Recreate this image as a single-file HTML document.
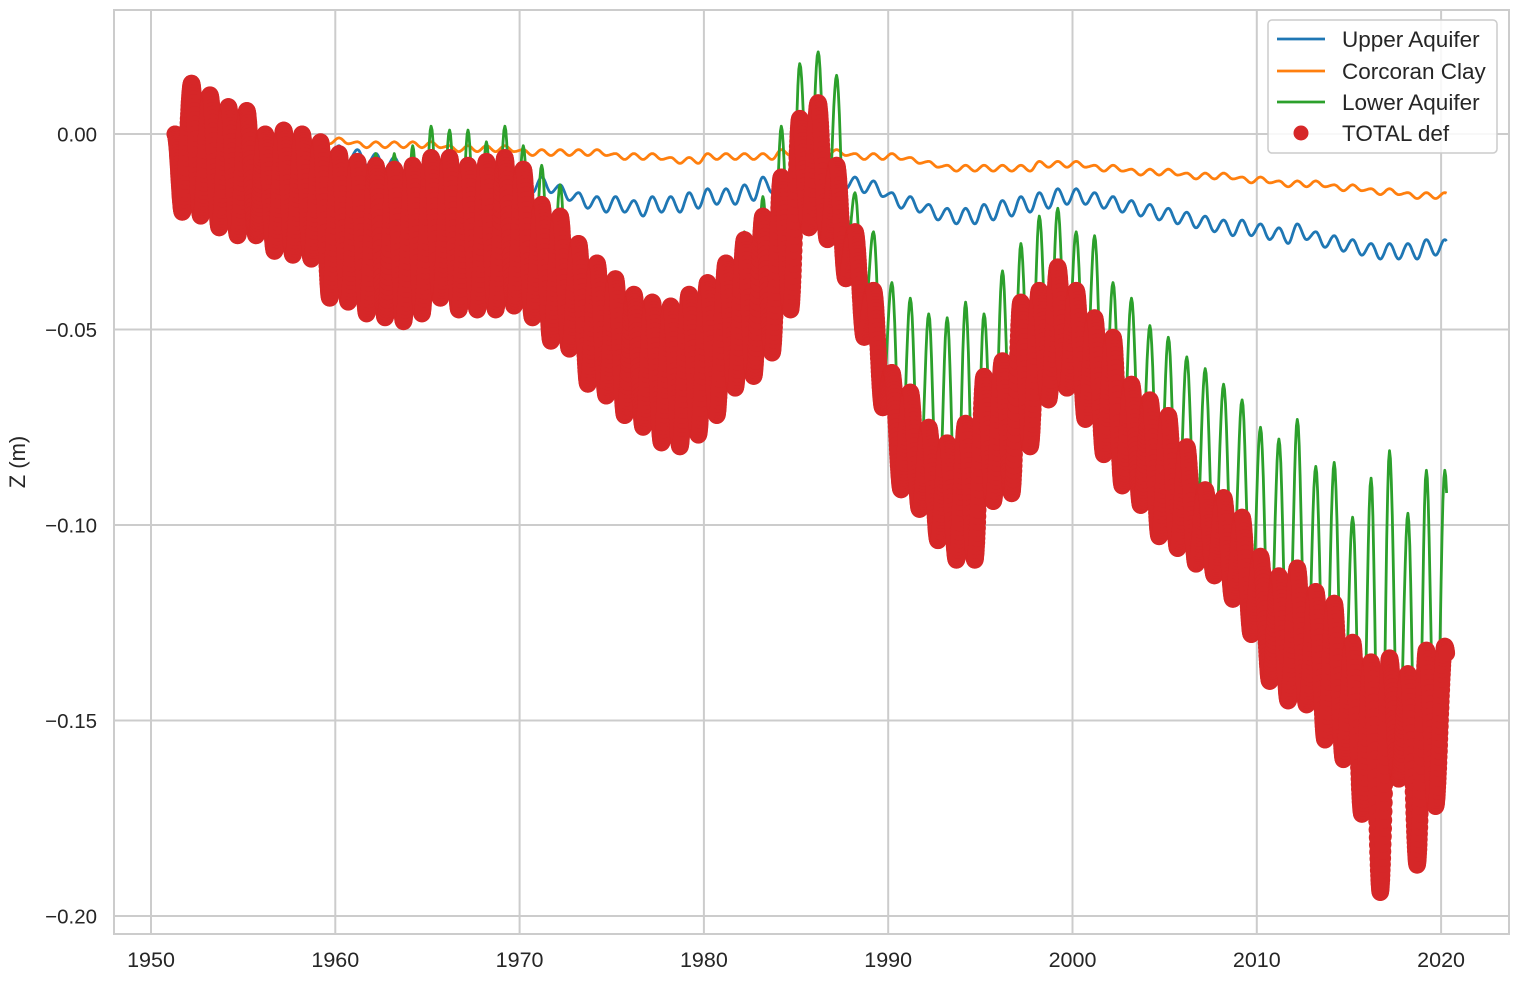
<!DOCTYPE html>
<html><head><meta charset="utf-8">
<style>
html,body{margin:0;padding:0;background:#fff;}
svg text{font-family:"Liberation Sans",sans-serif;fill:#262626;}
</style></head>
<body>
<svg id="chart" width="1518" height="981" viewBox="0 0 1518 981" xmlns="http://www.w3.org/2000/svg">
<g id="grid"></g>
<g id="series"></g>
<rect x="114" y="10" width="1395" height="924" fill="none" stroke="#cccccc" stroke-width="2"/>
<g id="ticks"></g>
<text x="25" y="462" font-size="22" text-anchor="middle" transform="rotate(-90 25 462)">Z (m)</text>
<g>
<rect x="1268" y="20" width="229" height="133" rx="4" fill="#fff" fill-opacity="0.85" stroke="#cccccc" stroke-width="1.5"/>
<g><line x1="1277" y1="39" x2="1325" y2="39" stroke="#1f77b4" stroke-width="2.8"/><text x="1342" y="47" font-size="22.5">Upper Aquifer</text></g>
<g><line x1="1277" y1="71" x2="1325" y2="71" stroke="#ff7f0e" stroke-width="2.8"/><text x="1342" y="79" font-size="22.5">Corcoran Clay</text></g>
<g><line x1="1277" y1="102" x2="1325" y2="102" stroke="#2ca02c" stroke-width="2.8"/><text x="1342" y="110" font-size="22.5">Lower Aquifer</text></g>
<g><circle cx="1301" cy="133" r="7.5" fill="#d62728"/><text x="1342" y="141" font-size="22.5">TOTAL def</text></g>
</g>
</svg>
<script>
const years = [];for(let y=1951;y<=2020;y++)years.push(y);
const xTicks=[1950,1960,1970,1980,1990,2000,2010,2020];
const yTicks=[0,-0.05,-0.10,-0.15,-0.20];
const yTickLabels=["0.00","−0.05","−0.10","−0.15","−0.20"];
const totalHigh=[0,0.013,0.010,0.007,0.006,0.000,0.001,0.000,-0.002,-0.005,-0.007,-0.008,-0.009,-0.008,-0.006,-0.006,-0.008,-0.007,-0.006,-0.009,-0.018,-0.021,-0.028,-0.033,-0.037,-0.041,-0.043,-0.044,-0.041,-0.038,-0.033,-0.027,-0.021,-0.011,0.004,0.008,-0.008,-0.025,-0.040,-0.061,-0.066,-0.075,-0.079,-0.074,-0.062,-0.058,-0.043,-0.040,-0.034,-0.040,-0.047,-0.052,-0.064,-0.068,-0.072,-0.080,-0.091,-0.093,-0.098,-0.108,-0.113,-0.111,-0.117,-0.120,-0.130,-0.135,-0.134,-0.138,-0.132,-0.131];
const totalLow=[-0.020,-0.021,-0.024,-0.026,-0.026,-0.030,-0.031,-0.032,-0.042,-0.043,-0.046,-0.047,-0.048,-0.046,-0.042,-0.045,-0.045,-0.045,-0.044,-0.047,-0.053,-0.055,-0.064,-0.067,-0.072,-0.075,-0.079,-0.080,-0.077,-0.072,-0.065,-0.062,-0.056,-0.045,-0.024,-0.027,-0.037,-0.052,-0.070,-0.091,-0.096,-0.104,-0.109,-0.109,-0.094,-0.092,-0.080,-0.068,-0.065,-0.073,-0.082,-0.090,-0.095,-0.103,-0.106,-0.110,-0.113,-0.119,-0.128,-0.140,-0.145,-0.146,-0.155,-0.160,-0.174,-0.194,-0.165,-0.187,-0.172,-0.150];
const lowerHigh=[0,0.013,0.010,0.007,0.006,0.000,0.001,0.000,-0.004,-0.008,-0.009,-0.005,-0.005,-0.003,0.002,0.001,0.001,-0.002,0.002,-0.003,-0.008,-0.013,-0.027,-0.033,-0.037,-0.040,-0.042,-0.044,-0.041,-0.038,-0.034,-0.025,-0.016,0.002,0.018,0.021,0.015,-0.015,-0.025,-0.038,-0.042,-0.046,-0.047,-0.043,-0.046,-0.035,-0.028,-0.021,-0.019,-0.025,-0.026,-0.038,-0.042,-0.049,-0.052,-0.057,-0.060,-0.064,-0.068,-0.075,-0.078,-0.073,-0.085,-0.084,-0.098,-0.088,-0.081,-0.097,-0.086,-0.086];
const lowerLow=[-0.017,-0.018,-0.021,-0.023,-0.023,-0.027,-0.028,-0.029,-0.039,-0.040,-0.043,-0.044,-0.045,-0.043,-0.039,-0.042,-0.042,-0.042,-0.041,-0.044,-0.050,-0.052,-0.061,-0.064,-0.069,-0.072,-0.076,-0.077,-0.074,-0.069,-0.062,-0.059,-0.053,-0.042,-0.021,-0.024,-0.034,-0.049,-0.067,-0.088,-0.093,-0.101,-0.106,-0.106,-0.091,-0.089,-0.077,-0.065,-0.062,-0.070,-0.079,-0.087,-0.092,-0.100,-0.103,-0.107,-0.110,-0.116,-0.125,-0.137,-0.142,-0.143,-0.152,-0.157,-0.171,-0.191,-0.162,-0.184,-0.169,-0.147];
const upperHigh=[0,-0.001,-0.002,-0.002,-0.003,-0.003,-0.003,-0.003,-0.002,-0.003,-0.004,-0.005,-0.006,-0.007,-0.008,-0.009,-0.009,-0.010,-0.010,-0.011,-0.011,-0.013,-0.015,-0.016,-0.016,-0.017,-0.016,-0.016,-0.015,-0.014,-0.014,-0.013,-0.011,-0.010,-0.009,-0.009,-0.010,-0.011,-0.012,-0.015,-0.016,-0.018,-0.019,-0.019,-0.018,-0.017,-0.016,-0.015,-0.014,-0.014,-0.015,-0.016,-0.017,-0.018,-0.019,-0.020,-0.021,-0.022,-0.022,-0.023,-0.024,-0.023,-0.025,-0.026,-0.027,-0.028,-0.028,-0.028,-0.027,-0.027];
const upperLow=[-0.004,-0.005,-0.006,-0.006,-0.007,-0.007,-0.007,-0.007,-0.006,-0.007,-0.008,-0.009,-0.010,-0.011,-0.012,-0.013,-0.013,-0.014,-0.014,-0.015,-0.015,-0.017,-0.019,-0.020,-0.020,-0.021,-0.020,-0.020,-0.019,-0.018,-0.018,-0.017,-0.015,-0.014,-0.013,-0.013,-0.014,-0.015,-0.016,-0.019,-0.020,-0.022,-0.023,-0.023,-0.022,-0.021,-0.020,-0.019,-0.018,-0.018,-0.019,-0.020,-0.021,-0.022,-0.023,-0.024,-0.025,-0.026,-0.026,-0.027,-0.028,-0.027,-0.029,-0.030,-0.031,-0.032,-0.032,-0.032,-0.031,-0.031];
const clayHigh=[0,0,-0.001,-0.001,-0.001,-0.001,-0.001,-0.001,-0.001,-0.001,-0.002,-0.002,-0.002,-0.002,-0.002,-0.003,-0.003,-0.003,-0.003,-0.004,-0.004,-0.004,-0.004,-0.004,-0.005,-0.005,-0.005,-0.006,-0.006,-0.005,-0.005,-0.005,-0.005,-0.004,-0.004,-0.004,-0.004,-0.005,-0.005,-0.005,-0.006,-0.007,-0.008,-0.008,-0.008,-0.008,-0.008,-0.007,-0.007,-0.007,-0.008,-0.008,-0.009,-0.009,-0.009,-0.010,-0.010,-0.010,-0.011,-0.011,-0.012,-0.012,-0.012,-0.013,-0.013,-0.014,-0.014,-0.015,-0.015,-0.015];
const clayLow=[-0.0015,-0.0015,-0.0025,-0.0025,-0.0025,-0.0025,-0.0025,-0.0025,-0.0025,-0.0025,-0.0035,-0.0035,-0.0035,-0.0035,-0.0035,-0.0045,-0.0045,-0.0045,-0.0045,-0.0055,-0.0055,-0.0055,-0.0055,-0.0055,-0.0065,-0.0065,-0.0065,-0.0075,-0.0075,-0.0065,-0.0065,-0.0065,-0.0065,-0.0055,-0.0055,-0.0055,-0.0055,-0.0065,-0.0065,-0.0065,-0.0075,-0.0085,-0.0095,-0.0095,-0.0095,-0.0095,-0.0095,-0.0085,-0.0085,-0.0085,-0.0095,-0.0095,-0.0105,-0.0105,-0.0105,-0.0115,-0.0115,-0.0115,-0.0125,-0.0125,-0.0135,-0.0135,-0.0135,-0.0145,-0.0145,-0.0155,-0.0155,-0.0165,-0.0165,-0.0165];

const NS="http://www.w3.org/2000/svg";
const xS=y=>151+(y-1950)*18.43;
const yS=v=>134-v*3910;
const grid=document.getElementById('grid'),ticks=document.getElementById('ticks'),ser=document.getElementById('series');
function mk(tag,attrs,parent){const e=document.createElementNS(NS,tag);for(const k in attrs)e.setAttribute(k,attrs[k]);parent.appendChild(e);return e;}
xTicks.forEach(t=>{
  const l=mk('line',{x1:xS(t),x2:xS(t),y1:10,y2:934,stroke:'#cccccc','stroke-width':2},grid);
  
  
  const tx=mk('text',{x:xS(t),y:967,'font-size':21.5,'text-anchor':'middle'},ticks);tx.textContent=t;
  
  
});
yTicks.forEach((t,i)=>{
  const l=mk('line',{x1:114,x2:1509,y1:yS(t),y2:yS(t),stroke:'#cccccc','stroke-width':2},grid);
  
  
  const tx=mk('text',{x:97,y:yS(t)+7.5,'font-size':20.5,'text-anchor':'end'},ticks);tx.textContent=yTickLabels[i];
  
  
});
const END=2020.3;
function samples(hi,lo,n){
  const ext=[];
  years.forEach((y,i)=>{ext.push([i===0?1951.3:y+0.2,hi[i]]);ext.push([y+0.7,lo[i]]);});
  const pts=[];
  for(let k=0;k<ext.length-1;k++){
    const [x0,v0]=ext[k],[x1,v1]=ext[k+1];
    for(let j=0;j<n;j++){const f=j/n;const x=x0+(x1-x0)*f;if(x>END)return pts;
      const w=(1-Math.cos(Math.PI*f))/2;pts.push([x,v0+(v1-v0)*w]);}
  }
  return pts;
}
function line(hi,lo,color,name){
  const p=samples(hi,lo,10).map(q=>xS(q[0]).toFixed(1)+','+yS(q[1]).toFixed(1)).join(' ');
  const el=mk('polyline',{points:p,fill:'none',stroke:color,'stroke-width':2.8,'stroke-linejoin':'round'},ser);
  
  
}
line(upperHigh,upperLow,'#1f77b4','upper-aquifer-line');
line(clayHigh,clayLow,'#ff7f0e','corcoran-clay-line');
line(lowerHigh,lowerLow,'#2ca02c','lower-aquifer-line');
const tg=mk('g',{fill:'#d62728'},ser);


samples(totalHigh,totalLow,40).forEach(q=>{
  const c=mk('circle',{cx:xS(q[0]).toFixed(1),cy:yS(q[1]).toFixed(1),r:8.5},tg);
  
  
});
</script>
</body></html>
